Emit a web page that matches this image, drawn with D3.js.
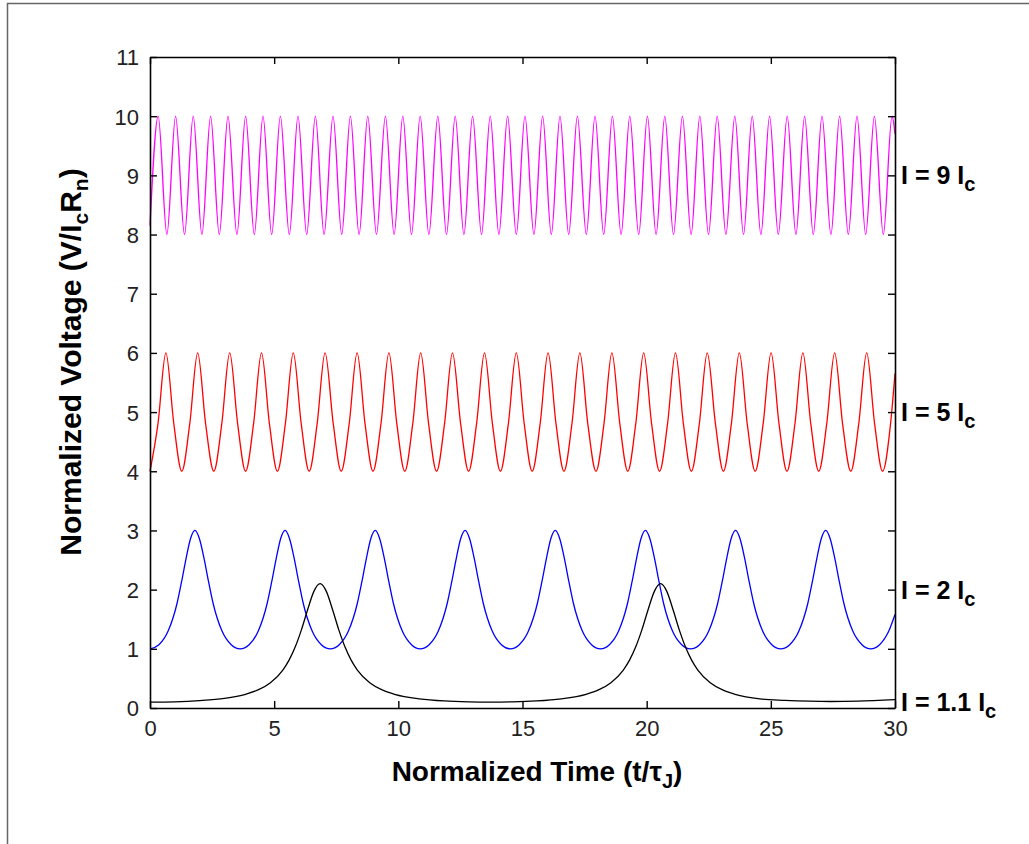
<!DOCTYPE html>
<html>
<head>
<meta charset="utf-8">
<script src="https://cdn.jsdelivr.net/npm/d3@7"></script>
<style>
  body { margin: 0; background: #fff; }
  .tickText { font-family: "Liberation Sans", Arial, sans-serif; font-size: 22px; fill: #222; }
  .axisText { font-family: "Liberation Sans", Arial, sans-serif; font-weight: bold; font-size: 28px; fill: #000; }
  .curveLabel { font-family: "Liberation Sans", Arial, sans-serif; font-weight: bold; font-size: 25px; fill: #000; }
</style>
</head>
<body>
<div id="chart"></div>
<script>
// tick labels
var xTicks = [0, 5, 10, 15, 20, 25, 30];
var yTicks = [0, 1, 2, 3, 4, 5, 6, 7, 8, 9, 10, 11];

// series: [time, voltage]
var curveI11 = [
  [0, 0.10], [1.0, 0.105], [2.0, 0.124], [3.0, 0.162], [3.85, 0.232], [4.35, 0.305],
  [4.85, 0.428], [5.35, 0.642], [5.6, 0.809], [5.85, 1.034], [6.1, 1.325], [6.35, 1.665],
  [6.6, 1.971], [6.85, 2.10], [7.1, 1.971], [7.35, 1.665], [7.6, 1.325], [7.85, 1.034],
  [8.1, 0.809], [8.35, 0.642], [8.85, 0.428], [9.35, 0.305], [9.85, 0.232], [10.85, 0.155],
  [11.85, 0.119], [12.85, 0.104], [13.7, 0.10], [14.6, 0.104], [15.56, 0.119], [16.56, 0.155],
  [17.56, 0.232], [18.06, 0.305], [18.56, 0.428], [19.06, 0.642], [19.31, 0.809], [19.56, 1.034],
  [19.81, 1.325], [20.06, 1.665], [20.31, 1.971], [20.56, 2.10], [20.81, 1.971], [21.06, 1.665],
  [21.31, 1.325], [21.56, 1.034], [21.81, 0.809], [22.06, 0.642], [22.56, 0.428], [23.06, 0.305],
  [23.56, 0.232], [24.56, 0.155], [25.56, 0.13], [26.56, 0.115], [27.41, 0.11], [28.5, 0.115],
  [30, 0.14]
];

var curveI2 = [
  [0, 1], [0.36, 1.07], [0.73, 1.30], [1.09, 1.77], [1.27, 2.13], [1.45, 2.52], [1.63, 2.86],
  [1.81, 3], [1.99, 2.86], [2.18, 2.52], [2.36, 2.13], [2.54, 1.77], [2.90, 1.30], [3.27, 1.07],
  [3.63, 1], [3.99, 1.07], [4.36, 1.30], [4.72, 1.77], [4.90, 2.13], [5.08, 2.52], [5.26, 2.86],
  [5.44, 3], [5.62, 2.86], [5.81, 2.52], [5.99, 2.13], [6.17, 1.77], [6.53, 1.30], [6.90, 1.07],
  [7.26, 1], [7.62, 1.07], [7.99, 1.30], [8.35, 1.77], [8.53, 2.13], [8.71, 2.52], [8.89, 2.86],
  [9.07, 3], [9.25, 2.86], [9.44, 2.52], [9.62, 2.13], [9.80, 1.77], [10.16, 1.30], [10.53, 1.07],
  [10.88, 1], [11.24, 1.07], [11.61, 1.30], [11.97, 1.77], [12.15, 2.13], [12.33, 2.52], [12.51, 2.86],
  [12.69, 3], [12.87, 2.86], [13.06, 2.52], [13.24, 2.13], [13.42, 1.77], [13.78, 1.30], [14.15, 1.07],
  [14.51, 1], [14.87, 1.07], [15.24, 1.30], [15.60, 1.77], [15.78, 2.13], [15.96, 2.52], [16.14, 2.86],
  [16.32, 3], [16.50, 2.86], [16.69, 2.52], [16.87, 2.13], [17.05, 1.77], [17.41, 1.30], [17.78, 1.07],
  [18.14, 1], [18.50, 1.07], [18.87, 1.30], [19.23, 1.77], [19.41, 2.13], [19.59, 2.52], [19.77, 2.86],
  [19.95, 3], [20.13, 2.86], [20.32, 2.52], [20.50, 2.13], [20.68, 1.77], [21.04, 1.30], [21.41, 1.07],
  [21.77, 1], [22.13, 1.07], [22.50, 1.30], [22.86, 1.77], [23.04, 2.13], [23.22, 2.52], [23.40, 2.86],
  [23.58, 3], [23.76, 2.86], [23.95, 2.52], [24.13, 2.13], [24.31, 1.77], [24.67, 1.30], [25.04, 1.07],
  [25.40, 1], [25.76, 1.07], [26.13, 1.30], [26.49, 1.77], [26.67, 2.13], [26.85, 2.52], [27.03, 2.86],
  [27.21, 3], [27.39, 2.86], [27.58, 2.52], [27.76, 2.13], [27.94, 1.77], [28.30, 1.30], [28.67, 1.07],
  [29.02, 1], [29.38, 1.07], [29.75, 1.30], [30, 1.58]
];

var curveI5 = [
  [0, 4], [0.32, 4.8], [0.64, 6], [0.96, 4.8], [1.28, 4], [1.60, 4.8], [1.92, 6], [2.24, 4.8],
  [2.57, 4], [2.89, 4.8], [3.21, 6], [3.53, 4.8], [3.85, 4], [4.17, 4.8], [4.49, 6], [4.81, 4.8],
  [5.13, 4], [5.45, 4.8], [5.77, 6], [6.09, 4.8], [6.41, 4], [6.73, 4.8], [7.05, 6], [7.38, 4.8],
  [7.70, 4], [8.02, 4.8], [8.34, 6], [8.66, 4.8], [8.98, 4], [9.30, 4.8], [9.62, 6], [9.94, 4.8],
  [10.26, 4], [10.58, 4.8], [10.90, 6], [11.22, 4.8], [11.54, 4], [11.86, 4.8], [12.18, 6], [12.51, 4.8],
  [12.83, 4], [13.15, 4.8], [13.47, 6], [13.79, 4.8], [14.11, 4], [14.43, 4.8], [14.75, 6], [15.07, 4.8],
  [15.39, 4], [15.71, 4.8], [16.03, 6], [16.35, 4.8], [16.67, 4], [16.99, 4.8], [17.31, 6], [17.63, 4.8],
  [17.96, 4], [18.28, 4.8], [18.60, 6], [18.92, 4.8], [19.24, 4], [19.56, 4.8], [19.88, 6], [20.20, 4.8],
  [20.52, 4], [20.84, 4.8], [21.16, 6], [21.48, 4.8], [21.80, 4], [22.12, 4.8], [22.44, 6], [22.77, 4.8],
  [23.09, 4], [23.41, 4.8], [23.73, 6], [24.05, 4.8], [24.37, 4], [24.69, 4.8], [25.01, 6], [25.33, 4.8],
  [25.65, 4], [25.97, 4.8], [26.29, 6], [26.61, 4.8], [26.93, 4], [27.25, 4.8], [27.57, 6], [27.89, 4.8],
  [28.22, 4], [28.54, 4.8], [28.86, 6], [29.18, 4.8], [29.50, 4], [29.82, 4.8], [30, 5.65]
];

var curveI9 = [
  [0, 8.15], [0.33, 10], [0.68, 8], [1.03, 10], [1.39, 8], [1.74, 10], [2.09, 8], [2.44, 10], [2.79, 8],
  [3.14, 10], [3.50, 8], [3.85, 10], [4.20, 8], [4.55, 10], [4.90, 8], [5.25, 10], [5.61, 8],
  [5.96, 10], [6.31, 8], [6.66, 10], [7.01, 8], [7.37, 10], [7.72, 8], [8.07, 10], [8.42, 8],
  [8.77, 10], [9.12, 8], [9.48, 10], [9.83, 8], [10.18, 10], [10.53, 8], [10.88, 10], [11.23, 8],
  [11.59, 10], [11.94, 8], [12.29, 10], [12.64, 8], [12.99, 10], [13.35, 8], [13.70, 10], [14.05, 8],
  [14.40, 10], [14.75, 8], [15.10, 10], [15.46, 8], [15.81, 10], [16.16, 8], [16.51, 10], [16.86, 8],
  [17.21, 10], [17.57, 8], [17.92, 10], [18.27, 8], [18.62, 10], [18.97, 8], [19.32, 10], [19.68, 8],
  [20.03, 10], [20.38, 8], [20.73, 10], [21.08, 8], [21.44, 10], [21.79, 8], [22.14, 10], [22.49, 8],
  [22.84, 10], [23.19, 8], [23.55, 10], [23.90, 8], [24.25, 10], [24.60, 8], [24.95, 10], [25.30, 8],
  [25.66, 10], [26.01, 8], [26.36, 10], [26.71, 8], [27.06, 10], [27.42, 8], [27.77, 10], [28.12, 8],
  [28.47, 10], [28.82, 8], [29.17, 10], [29.53, 8], [29.88, 10], [30, 9.7]
];

var seriesList = [
  { name: "I9", data: curveI9, color: "#ff00ff", label: ["I = 9 I", "c"], labelY: 9 },
  { name: "I5", data: curveI5, color: "#ff0000", label: ["I = 5 I", "c"], labelY: 5 },
  { name: "I2", data: curveI2, color: "#0000ff", label: ["I = 2 I", "c"], labelY: 2 },
  { name: "I11", data: curveI11, color: "#000000", label: ["I = 1.1 I", "c"], labelY: 0.1 }
];

makePlot();

function makePlot() {
    var svgWidth = 1029;
    var svgHeight = 844;

    var margin = { top: 57, right: 134, bottom: 136, left: 150 };
    var chart_width = svgWidth - margin.left - margin.right;
    var chart_height = svgHeight - margin.top - margin.bottom;

    var svg = d3.select("#chart")
        .append("svg")
        .attr("width", svgWidth)
        .attr("height", svgHeight);

    // outer figure frame
    svg.append("rect")
        .attr("x", 7.5).attr("y", 3.5)
        .attr("width", 1100).attr("height", 1000)
        .attr("fill", "none")
        .attr("stroke", "#666")
        .attr("stroke-width", 1.5);

    var chartGroup = svg.append("g")
        .attr("transform", `translate(${margin.left}, ${margin.top})`);

    var xScale = d3.scaleLinear().domain([0, 30]).range([0, chart_width]);
    var yScale = d3.scaleLinear().domain([0, 11]).range([chart_height, 0]);

    // curves
    var line = d3.line()
        .x(d => xScale(d[0]))
        .y(d => yScale(d[1]))
        .curve(d3.curveMonotoneX);

    chartGroup.selectAll(".curve")
        .data(seriesList)
        .enter()
        .append("path")
        .attr("class", "curve")
        .attr("d", d => line(d.data))
        .attr("fill", "none")
        .attr("stroke", d => d.color)
        .attr("stroke-width", 1.3);

    // axes, ticks pointing inward on all four sides
    var bottomAxis = d3.axisBottom(xScale).tickValues(xTicks).tickSizeInner(-7).tickSizeOuter(0).tickPadding(12);
    var topAxis = d3.axisTop(xScale).tickValues(xTicks).tickSizeInner(-7).tickSizeOuter(0).tickFormat("");
    var leftAxis = d3.axisLeft(yScale).tickValues(yTicks).tickSizeInner(-7).tickSizeOuter(0).tickPadding(11);
    var rightAxis = d3.axisRight(yScale).tickValues(yTicks).tickSizeInner(-7).tickSizeOuter(0).tickFormat("");

    var gx = chartGroup.append("g").attr("transform", `translate(0, ${chart_height})`).call(bottomAxis);
    var gt = chartGroup.append("g").call(topAxis);
    var gy = chartGroup.append("g").call(leftAxis);
    var gr = chartGroup.append("g").attr("transform", `translate(${chart_width}, 0)`).call(rightAxis);

    [gx, gt, gy, gr].forEach(function(g) {
        g.select(".domain").attr("stroke", "#000").attr("stroke-width", 1.6);
        g.selectAll(".tick line").attr("stroke", "#000").attr("stroke-width", 1.4);
        g.selectAll(".tick text").attr("class", "tickText").attr("font-size", null).attr("font-family", null).attr("fill", null);
    });
    gy.selectAll(".tick text").attr("dy", "0.36em");

    // curve labels on the right
    seriesList.forEach(function(s) {
        var t = chartGroup.append("text")
            .attr("class", "curveLabel")
            .attr("x", chart_width + 6)
            .attr("y", yScale(s.labelY) + 9);
        t.append("tspan").text(s.label[0]);
        t.append("tspan").attr("dy", 7).attr("font-size", 20).text(s.label[1]);
    });

    // axis titles
    var xt = chartGroup.append("text")
        .attr("class", "axisText")
        .attr("text-anchor", "middle")
        .attr("x", 387)
        .attr("y", chart_height + 73);
    xt.append("tspan").text("Normalized Time (t/\u03c4");
    xt.append("tspan").attr("dy", 7).attr("font-size", 20).text("J");
    xt.append("tspan").attr("dy", -7).text(")");

    var yt = chartGroup.append("text")
        .attr("class", "axisText")
        .attr("font-size", 30)
        .style("font-size", "30px")
        .attr("text-anchor", "middle")
        .attr("transform", `translate(${81 - margin.left}, ${362 - margin.top}) rotate(-90)`);
    yt.append("tspan").text("Normalized Voltage (V/I");
    yt.append("tspan").attr("dy", 7).attr("font-size", 21).text("c");
    yt.append("tspan").attr("dy", -7).text("R");
    yt.append("tspan").attr("dy", 7).attr("font-size", 21).text("n");
    yt.append("tspan").attr("dy", -7).text(")");
}
</script>
</body>
</html>
